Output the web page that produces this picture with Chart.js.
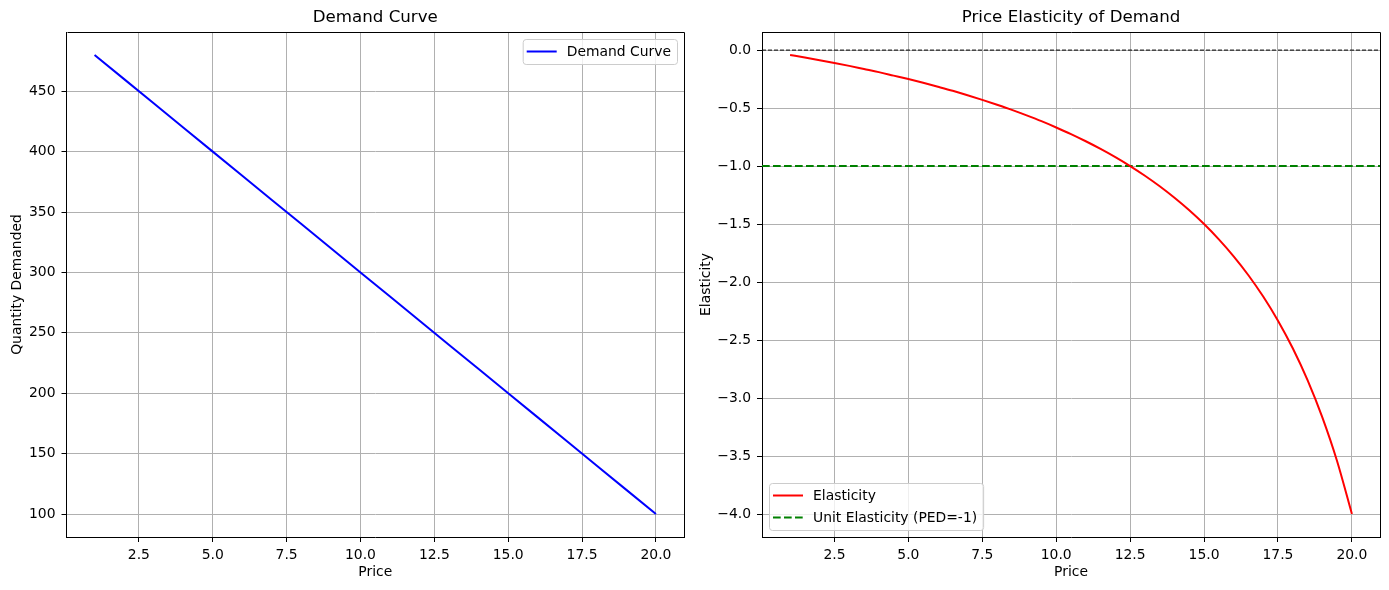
<!DOCTYPE html>
<html lang="en">
<head>
<meta charset="UTF-8">
<title>Demand Curve and Price Elasticity</title>
<style>
    body { margin: 0; background: #fff; }
    #leftBox { position: absolute; left: 0; top: 0; width: 694px; height: 590px; }
    #rightBox { position: absolute; left: 694px; top: 0; width: 695px; height: 590px; }
</style>
</head>
<body>
<div id="leftBox"><canvas id="demandChart" width="694" height="590"></canvas></div>
<div id="rightBox"><canvas id="elasticChart" width="695" height="590"></canvas></div>

<script src="https://cdn.jsdelivr.net/npm/chart.js@4.4.0/dist/chart.umd.min.js"></script>
<script>
    // demand curve
    var price = [1, 2, 3, 4, 5, 6, 7, 8, 9, 10, 11, 12, 13, 14, 15, 16, 17, 18, 19, 20];
    var quantity = [480, 460, 440, 420, 400, 380, 360, 340, 320, 300, 280, 260, 240, 220, 200, 180, 160, 140, 120, 100];

    // elasticity curve
    var elasticPrice = [1, 1.5, 2, 2.5, 3, 3.5, 4, 4.5, 5, 5.5, 6, 6.5, 7, 7.5, 8, 8.5, 9, 9.5, 10, 10.5,
        11, 11.5, 12, 12.5, 13, 13.5, 14, 14.5, 15, 15.5, 16, 16.5, 17, 17.5, 18, 18.5, 19, 19.5, 20];
    var elasticity = [-0.042, -0.064, -0.087, -0.111, -0.136, -0.163, -0.190, -0.220, -0.250, -0.282,
        -0.316, -0.351, -0.389, -0.429, -0.471, -0.515, -0.563, -0.613, -0.667, -0.724,
        -0.786, -0.852, -0.923, -1.000, -1.083, -1.174, -1.273, -1.381, -1.500, -1.632,
        -1.778, -1.941, -2.125, -2.333, -2.571, -2.846, -3.167, -3.545, -4.000];
    var unitElasticity = -1;
    var zeroLine = 0;

    // tick labels
    var priceTicks = [2.5, 5, 7.5, 10, 12.5, 15, 17.5, 20];
    var quantityTicks = [100, 150, 200, 250, 300, 350, 400, 450];
    var elasticTicks = [0, -0.5, -1, -1.5, -2, -2.5, -3, -3.5, -4];

    // axis limits (matplotlib 5% margins)
    var xMin = 0.05, xMax = 20.95;

    var FONT = 'DejaVu Sans';
    var SMALL = 13.9;

    function fmt(v) {
        return (v < 0 ? '\u2212' : '') + Math.abs(v).toFixed(1);
    }

    function pairs(xs, ys) {
        return xs.map((x, i) => ({ x: x, y: ys[i] }));
    }

    // spines on top/right and a matplotlib-like legend box
    var framePlugin = {
        id: 'frame',
        afterDraw(chart, args, opts) {
            var ctx = chart.ctx, a = chart.chartArea;
            ctx.save();
            ctx.strokeStyle = '#000';
            ctx.lineWidth = 1;
            ctx.beginPath();
            ctx.moveTo(Math.round(a.left) + 0.5, Math.round(a.top) + 0.5);
            ctx.lineTo(Math.round(a.right) + 0.5, Math.round(a.top) + 0.5);
            ctx.lineTo(Math.round(a.right) + 0.5, Math.round(a.bottom) + 0.5);
            ctx.stroke();

            var items = chart.data.datasets.filter(d => d.inLegend);
            ctx.font = SMALL + 'px ' + FONT;
            var tw = Math.max.apply(null, items.map(d => ctx.measureText(d.label).width));
            var w = 50 + tw, rowH = 14, gap = 8;
            var h = 11 + items.length * rowH + (items.length - 1) * gap;
            var bx, by;
            if (opts.corner === 'upper right') {
                bx = a.right - 7 - w; by = a.top + 7;
            } else {
                bx = a.left + 7; by = a.bottom - 7 - h;
            }
            ctx.beginPath();
            ctx.roundRect(bx + 0.5, by + 0.5, w, h, 3);
            ctx.fillStyle = 'rgba(255,255,255,0.8)';
            ctx.fill();
            ctx.strokeStyle = '#cccccc';
            ctx.lineWidth = 1;
            ctx.stroke();

            items.forEach((d, i) => {
                var cy = by + 5.5 + rowH / 2 + i * (rowH + gap);
                ctx.beginPath();
                ctx.setLineDash(d.borderDash || []);
                ctx.strokeStyle = d.borderColor;
                ctx.lineWidth = d.borderWidth;
                ctx.moveTo(bx + 4, cy);
                ctx.lineTo(bx + 34, cy);
                ctx.stroke();
                ctx.setLineDash([]);
                ctx.fillStyle = '#000';
                ctx.textBaseline = 'middle';
                ctx.textAlign = 'left';
                ctx.fillText(d.label, bx + 44, cy + 1);
            });
            ctx.restore();
        }
    };

    function makeOptions(title, yTitle, yTicks, yMin, yMax, yWidth, yTitlePad, rightPad, corner) {
        return {
            responsive: false,
            animation: false,
            layout: { padding: { left: 0, top: 0, right: rightPad, bottom: 0 } },
            plugins: {
                legend: { display: false },
                tooltip: { enabled: false },
                title: {
                    display: true,
                    text: title,
                    fullSize: false,
                    color: '#000',
                    font: { family: FONT, size: 16.67, weight: 'normal' },
                    padding: { top: 7.5, bottom: 4.5 }
                },
                frame: { corner: corner }
            },
            scales: {
                x: {
                    type: 'linear',
                    min: xMin,
                    max: xMax,
                    afterBuildTicks: s => { s.ticks = priceTicks.map(v => ({ value: v })); },
                    afterFit: s => { s.height = 53; },
                    ticks: {
                        autoSkip: false,
                        maxRotation: 0,
                        color: '#000',
                        padding: 5,
                        font: { family: FONT, size: SMALL },
                        callback: v => fmt(v)
                    },
                    grid: { color: '#b0b0b0', lineWidth: 1, tickColor: '#000', tickLength: 5 },
                    border: { display: true, color: '#000', width: 1 },
                    title: {
                        display: true,
                        text: 'Price',
                        color: '#000',
                        font: { family: FONT, size: SMALL },
                        padding: { top: 0, bottom: 9 }
                    }
                },
                y: {
                    type: 'linear',
                    min: yMin,
                    max: yMax,
                    afterBuildTicks: s => { s.ticks = yTicks.map(v => ({ value: v })); },
                    afterFit: s => { s.width = yWidth; },
                    ticks: {
                        autoSkip: false,
                        color: '#000',
                        padding: 6,
                        font: { family: FONT, size: SMALL },
                        callback: v => (yTicks === quantityTicks ? String(v) : fmt(v))
                    },
                    grid: { color: '#b0b0b0', lineWidth: 1, tickColor: '#000', tickLength: 5 },
                    border: { display: true, color: '#000', width: 1 },
                    title: {
                        display: true,
                        text: yTitle,
                        color: '#000',
                        font: { family: FONT, size: SMALL },
                        padding: { top: yTitlePad, bottom: 0 }
                    }
                }
            }
        };
    }

    new Chart(document.getElementById('demandChart'), {
        type: 'line',
        data: {
            datasets: [{
                label: 'Demand Curve',
                inLegend: true,
                data: pairs(price, quantity),
                borderColor: '#0000ff',
                borderWidth: 2,
                pointRadius: 0,
                tension: 0
            }]
        },
        options: makeOptions('Demand Curve', 'Quantity Demanded', quantityTicks, 81, 499, 66.5, 9.2, 10, 'upper right'),
        plugins: [framePlugin]
    });

    new Chart(document.getElementById('elasticChart'), {
        type: 'line',
        data: {
            datasets: [{
                label: 'Elasticity',
                inLegend: true,
                data: pairs(elasticPrice, elasticity),
                borderColor: '#ff0000',
                borderWidth: 2,
                pointRadius: 0,
                cubicInterpolationMode: 'monotone'
            }, {
                label: 'zero',
                inLegend: false,
                data: pairs([xMin, xMax], [zeroLine, zeroLine]),
                borderColor: '#000000',
                borderWidth: 1,
                borderDash: [4, 2],
                pointRadius: 0
            }, {
                label: 'Unit Elasticity (PED=-1)',
                inLegend: true,
                data: pairs([xMin, xMax], [unitElasticity, unitElasticity]),
                borderColor: '#008000',
                borderWidth: 2,
                borderDash: [7.7, 3.3],
                pointRadius: 0
            }]
        },
        options: makeOptions('Price Elasticity of Demand', 'Elasticity', elasticTicks, -4.198, 0.156, 68, 4, 9, 'lower left'),
        plugins: [framePlugin]
    });
</script>
</body>
</html>
